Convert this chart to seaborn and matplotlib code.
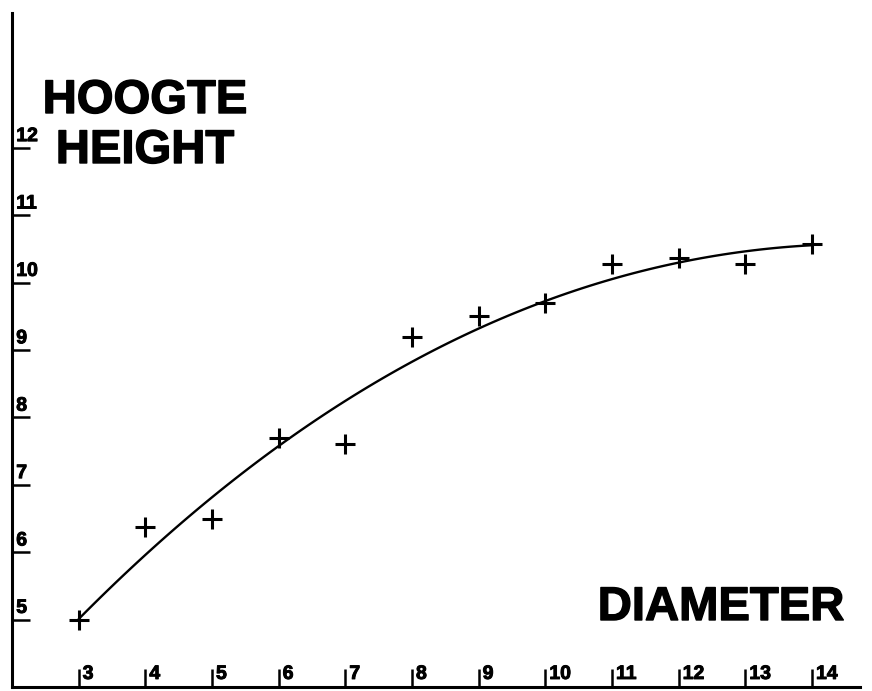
import matplotlib
matplotlib.use("Agg")
import matplotlib.pyplot as plt
import matplotlib.patheffects as pe
import seaborn as sns
import numpy as np
import pandas as pd

# measured points (diameter vs height)
diameter = [3, 4, 5, 6, 7, 8, 9, 10, 11, 12, 13, 14]
height = [5.0, 6.38, 6.5, 7.7, 7.6, 9.2, 9.5, 9.69, 10.28, 10.37, 10.28, 10.58]

# hand-drawn fitted curve, read at each diameter
curve_height = [5.0, 5.98, 6.8, 7.58, 8.25, 8.81, 9.32, 9.73, 10.06, 10.30, 10.45, 10.56]

x_ticks = list(range(3, 15))
y_ticks = list(range(5, 13))

sns.set_theme(style="white")
plt.rcParams['font.family'] = ['Liberation Sans', 'DejaVu Sans']
plt.rcParams['text.color'] = 'black'

df = pd.DataFrame({'diameter': diameter, 'height': height})
curve = pd.DataFrame({'diameter': diameter, 'height': curve_height})

fig = plt.figure(figsize=(8.72, 6.91), dpi=100)
ax = fig.add_axes([12 / 872, 4 / 691, 848 / 872, 674 / 691])

# smooth curve through the read values
sns.regplot(data=curve, x='diameter', y='height', order=3, scatter=False, ci=None,
            truncate=True, line_kws={'color': 'black', 'linewidth': 1.7}, ax=ax)
sns.scatterplot(data=df, x='diameter', y='height', marker='+', s=200, color='black',
                linewidth=2.2, ax=ax)

ax.set_xlim(2.0, 14.72)
ax.set_ylim(4.0, 14.0)

for s in ['top', 'right']:
    ax.spines[s].set_visible(False)
for s in ['left', 'bottom']:
    ax.spines[s].set_color('black')
    ax.spines[s].set_linewidth(2.2)

ax.set_xticks(x_ticks)
ax.set_yticks(y_ticks)
ax.tick_params(axis='both', direction='in', length=13, width=1.8, color='black',
               labelbottom=False, labelleft=False, bottom=True, left=True)
ax.set_xlabel('')
ax.set_ylabel('')

thick = [pe.withStroke(linewidth=0.7, foreground='black')]
for v in x_ticks:
    ax.text(v + 0.06, 0.006, str(v), transform=ax.get_xaxis_transform(),
            ha='left', va='bottom', fontsize=14, fontweight='bold', path_effects=thick)
for v in y_ticks:
    ax.text(0.005, v + 0.04, str(v), transform=ax.get_yaxis_transform(),
            ha='left', va='bottom', fontsize=14, fontweight='bold', path_effects=thick)

big = [pe.withStroke(linewidth=1.0, foreground='black')]
fig.text(145 / 872, 1 - 79 / 691, 'HOOGTE', ha='center', va='top',
         fontsize=34, fontweight='bold', path_effects=big)
fig.text(145 / 872, 1 - 129 / 691, 'HEIGHT', ha='center', va='top',
         fontsize=34, fontweight='bold', path_effects=big)
fig.text(721 / 872, 1 - 620 / 691, 'DIAMETER', ha='center', va='baseline',
         fontsize=34, fontweight='bold', path_effects=big)

fig.savefig('out.png', dpi=100)
